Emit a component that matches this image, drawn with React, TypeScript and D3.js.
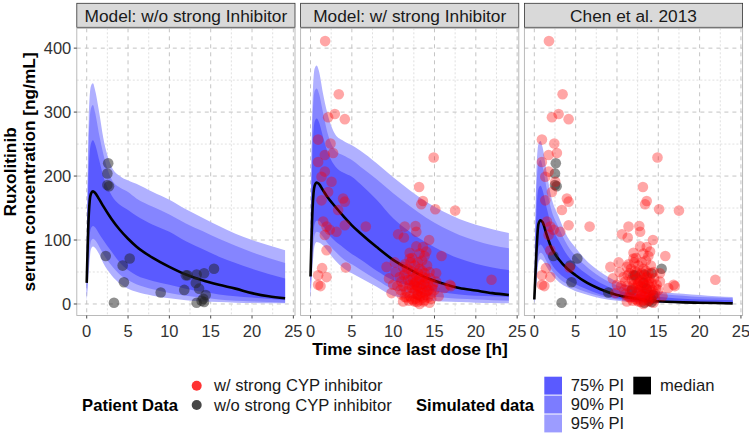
import React from 'react';
import * as d3 from 'd3';

const PANEL_TITLES = ['Model: w/o strong Inhibitor', 'Model: w/ strong Inhibitor', 'Chen et al. 2013'];
const X_TICKS = [0, 5, 10, 15, 20, 25];
const X_MINOR = [2.5, 7.5, 12.5, 17.5, 22.5];
const Y_TICKS = [0, 100, 200, 300, 400];
const Y_MINOR = [50, 150, 250, 350];

const TIMES = [0, 0.25, 0.5, 0.75, 1, 1.5, 2, 3, 4, 5, 6, 8, 10, 12, 14, 16, 18, 20, 22, 24];

// Panel 1: model without strong inhibitor
const WO_MED = [33, 140, 172, 176, 174, 164, 153, 133, 116, 102, 90, 72, 58, 46, 37, 30, 24, 17, 12, 9];
const WO_HI95 = [80, 290, 340, 345, 335, 300, 260, 215, 200, 193, 188, 175, 163, 148, 135, 122, 110, 100, 92, 84];
const WO_HI90 = [60, 255, 305, 311, 300, 265, 235, 195, 182, 175, 165, 152, 140, 126, 114, 102, 91, 81, 72, 64];
const WO_HI75 = [45, 210, 250, 256, 250, 225, 200, 170, 155, 147, 138, 124, 113, 98, 86, 74, 64, 55, 47, 40];
const WO_LO75 = [20, 90, 118, 122, 120, 110, 100, 82, 65, 53, 45, 36, 30, 24, 19, 15, 12, 10, 8, 6];
const WO_LO90 = [8, 65, 98, 102, 100, 90, 78, 60, 46, 37, 31, 23, 17, 13, 10, 7, 5, 4, 3, 2];
const WO_LO95 = [3, 50, 85, 90, 88, 78, 64, 45, 32, 24, 19, 13, 9, 6, 4, 3, 2, 1.5, 1, 1];

// Panel 2: model with strong inhibitor
const W_MED = [43, 150, 185, 190, 188, 178, 168, 152, 137, 123, 111, 89, 69, 54, 41, 32, 25, 21, 17, 14];
const W_HI95 = [90, 320, 368, 373, 365, 330, 300, 265, 255, 248, 240, 220, 198, 178, 160, 145, 133, 124, 117, 111];
const W_HI90 = [70, 290, 333, 337, 330, 300, 270, 240, 232, 225, 215, 195, 173, 153, 135, 120, 108, 99, 92, 87];
const W_HI75 = [55, 240, 285, 290, 285, 262, 240, 215, 205, 199, 188, 163, 134, 113, 96, 82, 71, 63, 57, 53];
const W_LO75 = [25, 95, 125, 130, 130, 122, 112, 98, 88, 78, 70, 52, 37, 28, 22, 18, 15, 13, 12, 11];
const W_LO90 = [12, 75, 108, 113, 112, 105, 96, 82, 70, 62, 54, 38, 23, 17, 13, 10, 8, 7, 6, 5];
const W_LO95 = [5, 60, 92, 97, 96, 92, 84, 68, 56, 48, 41, 27, 13, 9, 6, 4, 3, 2, 1.5, 1];

// Panel 3: Chen et al. 2013
const C_MED = [7, 80, 125, 131, 128, 108, 90, 69, 55, 45, 36, 23, 14, 9, 5, 3.5, 2.5, 2, 1.5, 1];
const C_HI95 = [20, 200, 250, 255, 245, 205, 170, 135, 105, 88, 72, 50, 35, 27, 22, 18, 16, 14, 12, 11];
const C_HI90 = [15, 175, 220, 225, 215, 180, 150, 118, 92, 75, 62, 42, 29, 22, 18, 15, 13, 11, 10, 9];
const C_HI75 = [12, 140, 180, 185, 178, 150, 125, 98, 76, 61, 50, 33, 22, 16, 13, 10, 8, 7, 6.5, 6];
const C_LO75 = [3, 50, 88, 93, 90, 77, 64, 48, 38, 31, 25, 15, 9, 6, 4, 3, 2, 1.5, 1, 1];
const C_LO90 = [1, 38, 75, 80, 78, 66, 55, 40, 31, 25, 20, 12, 7, 4, 3, 2, 1.5, 1, 1, 0.5];
const C_LO95 = [0, 30, 65, 70, 68, 58, 48, 34, 26, 20, 16, 9, 5, 3, 2, 1.5, 1, 0.5, 0.5, 0.3];

// Patient data without strong CYP inhibitor [time h, conc ng/mL]
const GREY_POINTS: [number, number][] = [
  [2.6, 220], [2.5, 204], [2.5, 186], [2.7, 184], [2.3, 75], [3.3, 2], [4.35, 60], [5.2, 71],
  [4.5, 34], [8.95, 18], [11.8, 22], [12.0, 45], [12.2, 45], [13.3, 46], [14.2, 48], [15.4, 55],
  [13.2, 33], [13.6, 24], [14.4, 14], [13.3, 2], [13.9, 5], [14.2, 3], [14.1, 8],
];

// Patient data with strong CYP inhibitor [time h, conc ng/mL]
const RED_POINTS: [number, number][] = [
  [1.77, 411], [3.42, 328], [2.94, 297], [2.13, 292], [4.15, 289], [0.92, 257], [2.42, 251], [2.73, 236],
  [1.73, 233], [14.9, 229], [0.92, 222], [1.73, 207], [1.33, 199], [2.54, 191], [2.13, 175], [1.33, 162],
  [3.94, 165], [4.15, 160], [3.34, 147], [1.53, 129], [1.94, 121], [2.33, 116], [1.73, 108], [3.14, 113],
  [4.15, 123], [6.69, 121], [1.94, 84], [4.27, 57], [1.4, 56], [0.92, 45], [1.94, 42], [0.92, 30],
  [1.21, 28], [13.14, 183], [13.6, 161], [13.4, 156], [15.1, 148], [17.5, 146], [11.4, 121], [12.7, 122],
  [12.8, 113], [10.6, 109], [11.3, 104], [14.35, 100], [12.8, 90], [13.6, 89], [14.0, 82], [13.2, 79],
  [15.85, 75], [12.0, 71], [10.2, 65], [9.2, 58], [11.2, 58], [15.2, 48], [16.85, 30], [21.9, 38],
  [9.8, 17], [11.4, 11], [12.4, 6], [13.8, 6], [13.0, 14], [11.2, 4], [12.6, 4],
  [10.3, 50], [10.8, 42], [11.0, 35], [11.2, 28], [11.5, 48], [11.6, 20], [11.8, 38], [12.0, 30],
  [12.0, 12], [12.2, 52], [12.3, 25], [12.4, 40], [12.5, 18], [12.6, 33], [12.7, 8], [12.8, 45],
  [12.9, 28], [13.0, 20], [13.1, 38], [13.2, 55], [13.3, 12], [13.4, 30], [13.5, 24], [13.6, 42],
  [13.7, 4], [13.8, 18], [13.9, 35], [14.0, 27], [14.1, 60], [14.2, 10], [14.3, 22], [14.5, 40],
  [14.6, 16], [14.8, 30], [15.0, 22], [15.2, 35], [12.1, 65], [11.4, 62], [13.5, 68], [12.9, 3],
  [13.2, 0], [14.4, 2], [16.2, 25], [17.0, 28], [11.9, 5], [10.5, 28], [15.5, 12],
  [11.0, 15], [11.3, 45], [11.7, 55], [11.9, 25], [12.1, 38], [12.2, 8], [12.4, 50], [12.5, 30],
  [12.6, 60], [12.7, 22], [12.8, 35], [12.9, 15], [13.0, 48], [13.1, 26], [13.2, 6], [13.3, 40],
  [13.4, 18], [13.5, 52], [13.6, 10], [13.7, 32], [13.8, 48], [13.9, 14], [14.0, 40], [14.1, 20],
  [14.2, 33], [14.4, 50], [14.6, 8], [14.7, 24], [12.3, 72], [13.0, 65], [11.6, 10], [10.9, 22],
  [10.0, 30], [9.5, 40], [12.0, 80], [13.8, 75],
];

const LEGEND_PATIENT = ['w/ strong CYP inhibitor', 'w/o strong CYP inhibitor'];
const LEGEND_SIM = ['75% PI', '90% PI', '95% PI'];

const PANEL_SIM = [
  { med: WO_MED, hi95: WO_HI95, hi90: WO_HI90, hi75: WO_HI75, lo75: WO_LO75, lo90: WO_LO90, lo95: WO_LO95 },
  { med: W_MED, hi95: W_HI95, hi90: W_HI90, hi75: W_HI75, lo75: W_LO75, lo90: W_LO90, lo95: W_LO95 },
  { med: C_MED, hi95: C_HI95, hi90: C_HI90, hi75: C_HI75, lo75: C_LO75, lo90: C_LO90, lo95: C_LO95 },
];
const PANEL_SHOW = [
  { grey: true, red: false },
  { grey: false, red: true },
  { grey: true, red: true },
];

const FONT = '"Liberation Sans", Arial, Helvetica, sans-serif';
const COL95 = '#b0b0ff';
const COL90 = '#8585ff';
const COL75 = '#5a5aff';

export default function App() {
  const W = 749;
  const H = 434;
  const panelW = 218.2;
  const lefts = [76.8, 300.6, 524.4];
  const top = 28.3;
  const bottom = 315.5;
  const y = d3.scaleLinear().domain([-18, 431]).range([bottom, top]);

  const panels = lefts.map((left, pi) => {
    const x = d3.scaleLinear().domain([-1.2, 25.2]).range([left, left + panelW]);
    const sim = PANEL_SIM[pi];
    const band = (lo: number[], hi: number[]) =>
      d3.area<number>()
        .x((_, i) => x(TIMES[i]))
        .y0((_, i) => y(lo[i]))
        .y1((_, i) => y(hi[i]))
        .curve(d3.curveMonotoneX)(TIMES) || '';
    const line = d3.line<number>()
      .x((_, i) => x(TIMES[i]))
      .y((_, i) => y(sim.med[i]))
      .curve(d3.curveMonotoneX)(TIMES) || '';
    const cx = left + panelW / 2;
    return (
      <g key={pi}>
        <rect x={left} y={3.3} width={panelW} height={24} fill="#d9d9d9" stroke="#333" strokeWidth={0.8} />
        <text x={cx} y={21.6} textAnchor="middle" fontSize={17.3} fill="#1a1a1a" fontFamily={FONT}>{PANEL_TITLES[pi]}</text>
        <rect x={left} y={top} width={panelW} height={bottom - top} fill="#fff" />
        {X_MINOR.map(t => (
          <line key={'xm' + t} x1={x(t)} x2={x(t)} y1={top} y2={bottom} stroke="#d2d2d2" strokeWidth={0.7} strokeDasharray="2 2" />
        ))}
        {Y_MINOR.map(v => (
          <line key={'ym' + v} x1={left} x2={left + panelW} y1={y(v)} y2={y(v)} stroke="#d2d2d2" strokeWidth={0.7} strokeDasharray="2 2" />
        ))}
        {X_TICKS.map(t => (
          <line key={'xg' + t} x1={x(t)} x2={x(t)} y1={top} y2={bottom} stroke="#bdbdbd" strokeWidth={0.9} strokeDasharray="4 4" />
        ))}
        {Y_TICKS.map(v => (
          <line key={'yg' + v} x1={left} x2={left + panelW} y1={y(v)} y2={y(v)} stroke="#bdbdbd" strokeWidth={0.9} strokeDasharray="4 4" />
        ))}
        <path d={band(sim.lo95, sim.hi95)} fill={COL95} />
        <path d={band(sim.lo90, sim.hi90)} fill={COL90} />
        <path d={band(sim.lo75, sim.hi75)} fill={COL75} />
        <path d={line} fill="none" stroke="#000" strokeWidth={2.6} />
        {PANEL_SHOW[pi].grey && GREY_POINTS.map((p, i) => (
          <circle key={'g' + i} cx={x(p[0])} cy={y(p[1])} r={5.3} fill="#222" fillOpacity={0.5} />
        ))}
        {PANEL_SHOW[pi].red && RED_POINTS.map((p, i) => (
          <circle key={'r' + i} cx={x(p[0])} cy={y(p[1])} r={5.3} fill="#ff0000" fillOpacity={0.35} />
        ))}
        <rect x={left} y={top} width={panelW} height={bottom - top} fill="none" stroke="#b3b3b3" strokeWidth={0.9} />
        {X_TICKS.map(t => (
          <g key={'xt' + t}>
            <line x1={x(t)} x2={x(t)} y1={bottom} y2={bottom + 3} stroke="#333" strokeWidth={0.9} />
            <text x={x(t)} y={337} textAnchor="middle" fontSize={16.5} fill="#333" fontFamily={FONT}>{t}</text>
          </g>
        ))}
        {pi === 0 && Y_TICKS.map(v => (
          <g key={'yt' + v}>
            <line x1={left - 3} x2={left} y1={y(v)} y2={y(v)} stroke="#333" strokeWidth={0.9} />
            <text x={left - 5.5} y={y(v) + 6} textAnchor="end" fontSize={16.5} fill="#333" fontFamily={FONT}>{v}</text>
          </g>
        ))}
      </g>
    );
  });

  const yMid = (top + bottom) / 2;

  return (
    <svg width={W} height={H} style={{ position: 'absolute', left: 0, top: 0, background: '#fff' }} fontFamily={FONT}>
      <rect width={W} height={H} fill="#fff" />
      {panels}
      <text x={410} y={355} textAnchor="middle" fontSize={17.3} fontWeight="bold" fill="#000">Time since last dose [h]</text>
      <text transform={`translate(15.5,${yMid}) rotate(-90)`} textAnchor="middle" fontSize={17.3} fontWeight="bold" fill="#000">Ruxolitinib</text>
      <text transform={`translate(35,${yMid}) rotate(-90)`} textAnchor="middle" fontSize={17.3} fontWeight="bold" fill="#000">serum concentration [ng/mL]</text>
      <text x={178} y={410.5} textAnchor="end" fontSize={16.6} fontWeight="bold" fill="#000">Patient Data</text>
      <circle cx={196.7} cy={385.7} r={5} fill="#ff0000" fillOpacity={0.8} />
      <circle cx={196.7} cy={405} r={5} fill="#333" fillOpacity={0.9} />
      {LEGEND_PATIENT.map((s, i) => (
        <text key={s} x={214} y={391 + i * 19.5} fontSize={16.6} fill="#1a1a1a">{s}</text>
      ))}
      <text x={534} y={410.5} textAnchor="end" fontSize={16.6} fontWeight="bold" fill="#000">Simulated data</text>
      {LEGEND_SIM.map((s, i) => (
        <g key={s}>
          <rect x={544.3} y={376.7 + i * 18.9} width={17.7} height={17.9} fill={[COL75, '#7c7cff', '#9c9cff'][i]} />
          <text x={570.7} y={391 + i * 18.9} fontSize={16.6} fill="#1a1a1a">{s}</text>
        </g>
      ))}
      <rect x={633.3} y={376.7} width={17.7} height={17.7} fill="#000" />
      <text x={660} y={391} fontSize={16.6} fill="#1a1a1a">median</text>
    </svg>
  );
}
